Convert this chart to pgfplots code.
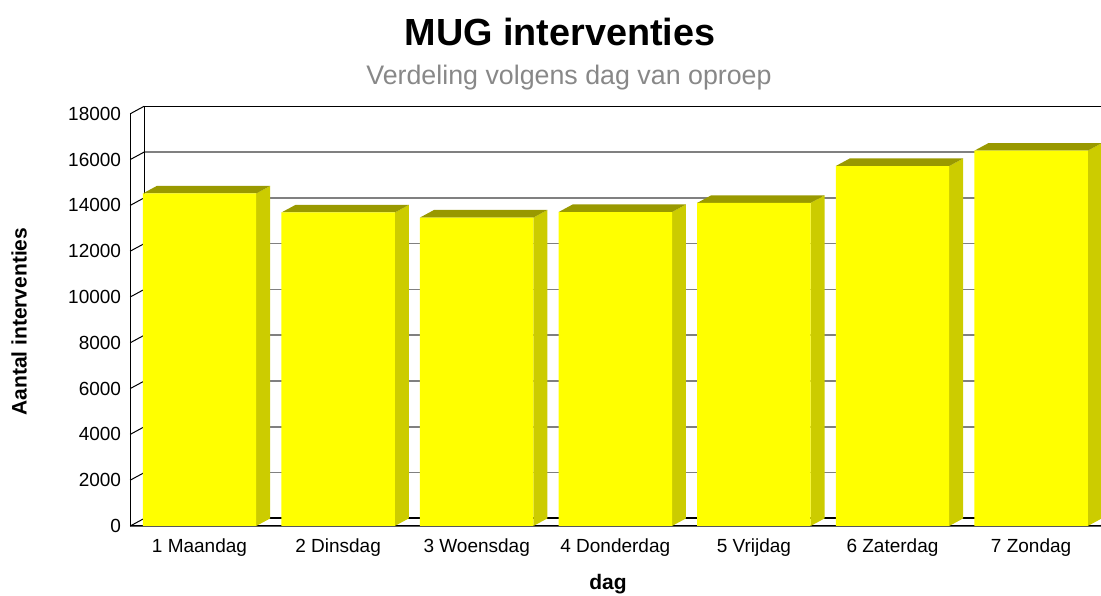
\documentclass[border=0pt]{standalone}
\usepackage{fontspec}
\setmainfont{Liberation Sans}
\usepackage{pgfplots}
\usepackage{pgfplotstable}
\pgfplotsset{compat=1.18}

\definecolor{barfront}{RGB}{255,255,0}
\definecolor{barside}{RGB}{204,204,0}
\definecolor{bartop}{RGB}{153,153,0}
\definecolor{gridgray}{RGB}{128,128,128}
\definecolor{subgray}{RGB}{136,136,136}

% MUG interventions per weekday
\pgfplotstableread{
dag v
1 14520
2 13690
3 13470
4 13710
5 14110
6 15720
7 16390
}\data

% depth offset of the 3D look (axis units) and half bar width
\def\dx{0.101}
\def\dy{330}
\def\bw{0.409}

\begin{document}
\begin{tikzpicture}[x=1pt,y=1pt]
\useasboundingbox (0,0) rectangle (1101,596);
\clip (0,0) rectangle (1101,596);

\begin{axis}[
  at={(130.2pt,70pt)}, anchor=south west,
  scale only axis, width=970.2pt, height=412.2pt,
  xmin=0.5, xmax=7.5, ymin=0, ymax=18000,
  clip=false,
  axis line style={draw=none},
  major tick length=0pt,
  xtick={1,...,7},
  xticklabels={1 Maandag,2 Dinsdag,3 Woensdag,4 Donderdag,5 Vrijdag,6 Zaterdag,7 Zondag},
  ytick={0,2000,...,18000},
  scaled y ticks=false,
  /pgf/number format/1000 sep={},
  /pgf/number format/assume math mode=true,
  ticklabel style={font=\fontsize{19}{22}\selectfont},
  yticklabel style={anchor=east, xshift=-5.6pt},
  xticklabel style={anchor=north, yshift=-9pt},
]

% back wall grid
\pgfplotsforeachungrouped \k in {1,...,8}{%
  \edef\yy{\the\numexpr 2000*\k+\dy\relax}
  \pgfmathsetmacro\xa{0.5+\dx}
  \pgfmathsetmacro\xb{7.5+\dx}
  \edef\temp{\noexpand\addplot[gridgray, line width=1.5pt] coordinates {(\xa,\yy) (\xb,\yy)};}
  \temp
}
% left wall diagonals
\pgfplotsforeachungrouped \k in {0,...,9}{%
  \edef\ya{\the\numexpr 2000*\k\relax}
  \edef\yy{\the\numexpr 2000*\k+\dy\relax}
  \pgfmathsetmacro\xa{0.5+\dx}
  \edef\temp{\noexpand\addplot[black, line width=1pt] coordinates {(0.5,\ya) (\xa,\yy)};}
  \temp
}
\addplot[black, line width=1pt] coordinates {(0.601,18330) (7.601,18330)};
\addplot[black, line width=1pt] coordinates {(0.601,330) (0.601,18330)};
\addplot[black, line width=1pt] coordinates {(0.5,0) (0.5,18000)};
\addplot[black, line width=2pt] coordinates {(0.601,330) (7.601,330)};
\addplot[black, line width=1.5pt] coordinates {(0.5,0) (7.5,0) (7.601,330)};

% bars: side and top faces
\pgfplotsforeachungrouped \i in {0,...,6}{%
  \pgfplotstablegetelem{\i}{v}\of\data
  \let\v\pgfplotsretval
  \pgfmathsetmacro\xl{\i+1-\bw}
  \pgfmathsetmacro\xr{\i+1+\bw}
  \pgfmathsetmacro\xlb{\xl+\dx}
  \pgfmathsetmacro\xrb{\xr+\dx}
  \edef\vb{\the\numexpr\v+\dy\relax}
  \edef\temp{%
    \noexpand\addplot[draw=none, fill=barside] coordinates {(\xr,0) (\xrb,\dy) (\xrb,\vb) (\xr,\v)} -- cycle;
    \noexpand\addplot[draw=none, fill=bartop] coordinates {(\xl,\v) (\xlb,\vb) (\xrb,\vb) (\xr,\v)} -- cycle;
  }
  \temp
}
% bars: front faces
\addplot[ybar, bar width=113.4pt, bar shift=0pt, draw=none, fill=barfront]
  table[x=dag, y=v]{\data};
\end{axis}

\node[anchor=base, font=\fontsize{37.8}{40}\selectfont\bfseries] at (560,550.5) {MUG interventies};
\node[anchor=base, font=\fontsize{26.8}{30}\selectfont, text=subgray] at (569,511) {Verdeling volgens dag van oproep};
\node[rotate=90, font=\fontsize{21}{24}\selectfont\bfseries] at (19,274.3) {Aantal interventies};
\node[anchor=base, font=\fontsize{21}{24}\selectfont\bfseries] at (608,6) {dag};
\end{tikzpicture}
\end{document}
